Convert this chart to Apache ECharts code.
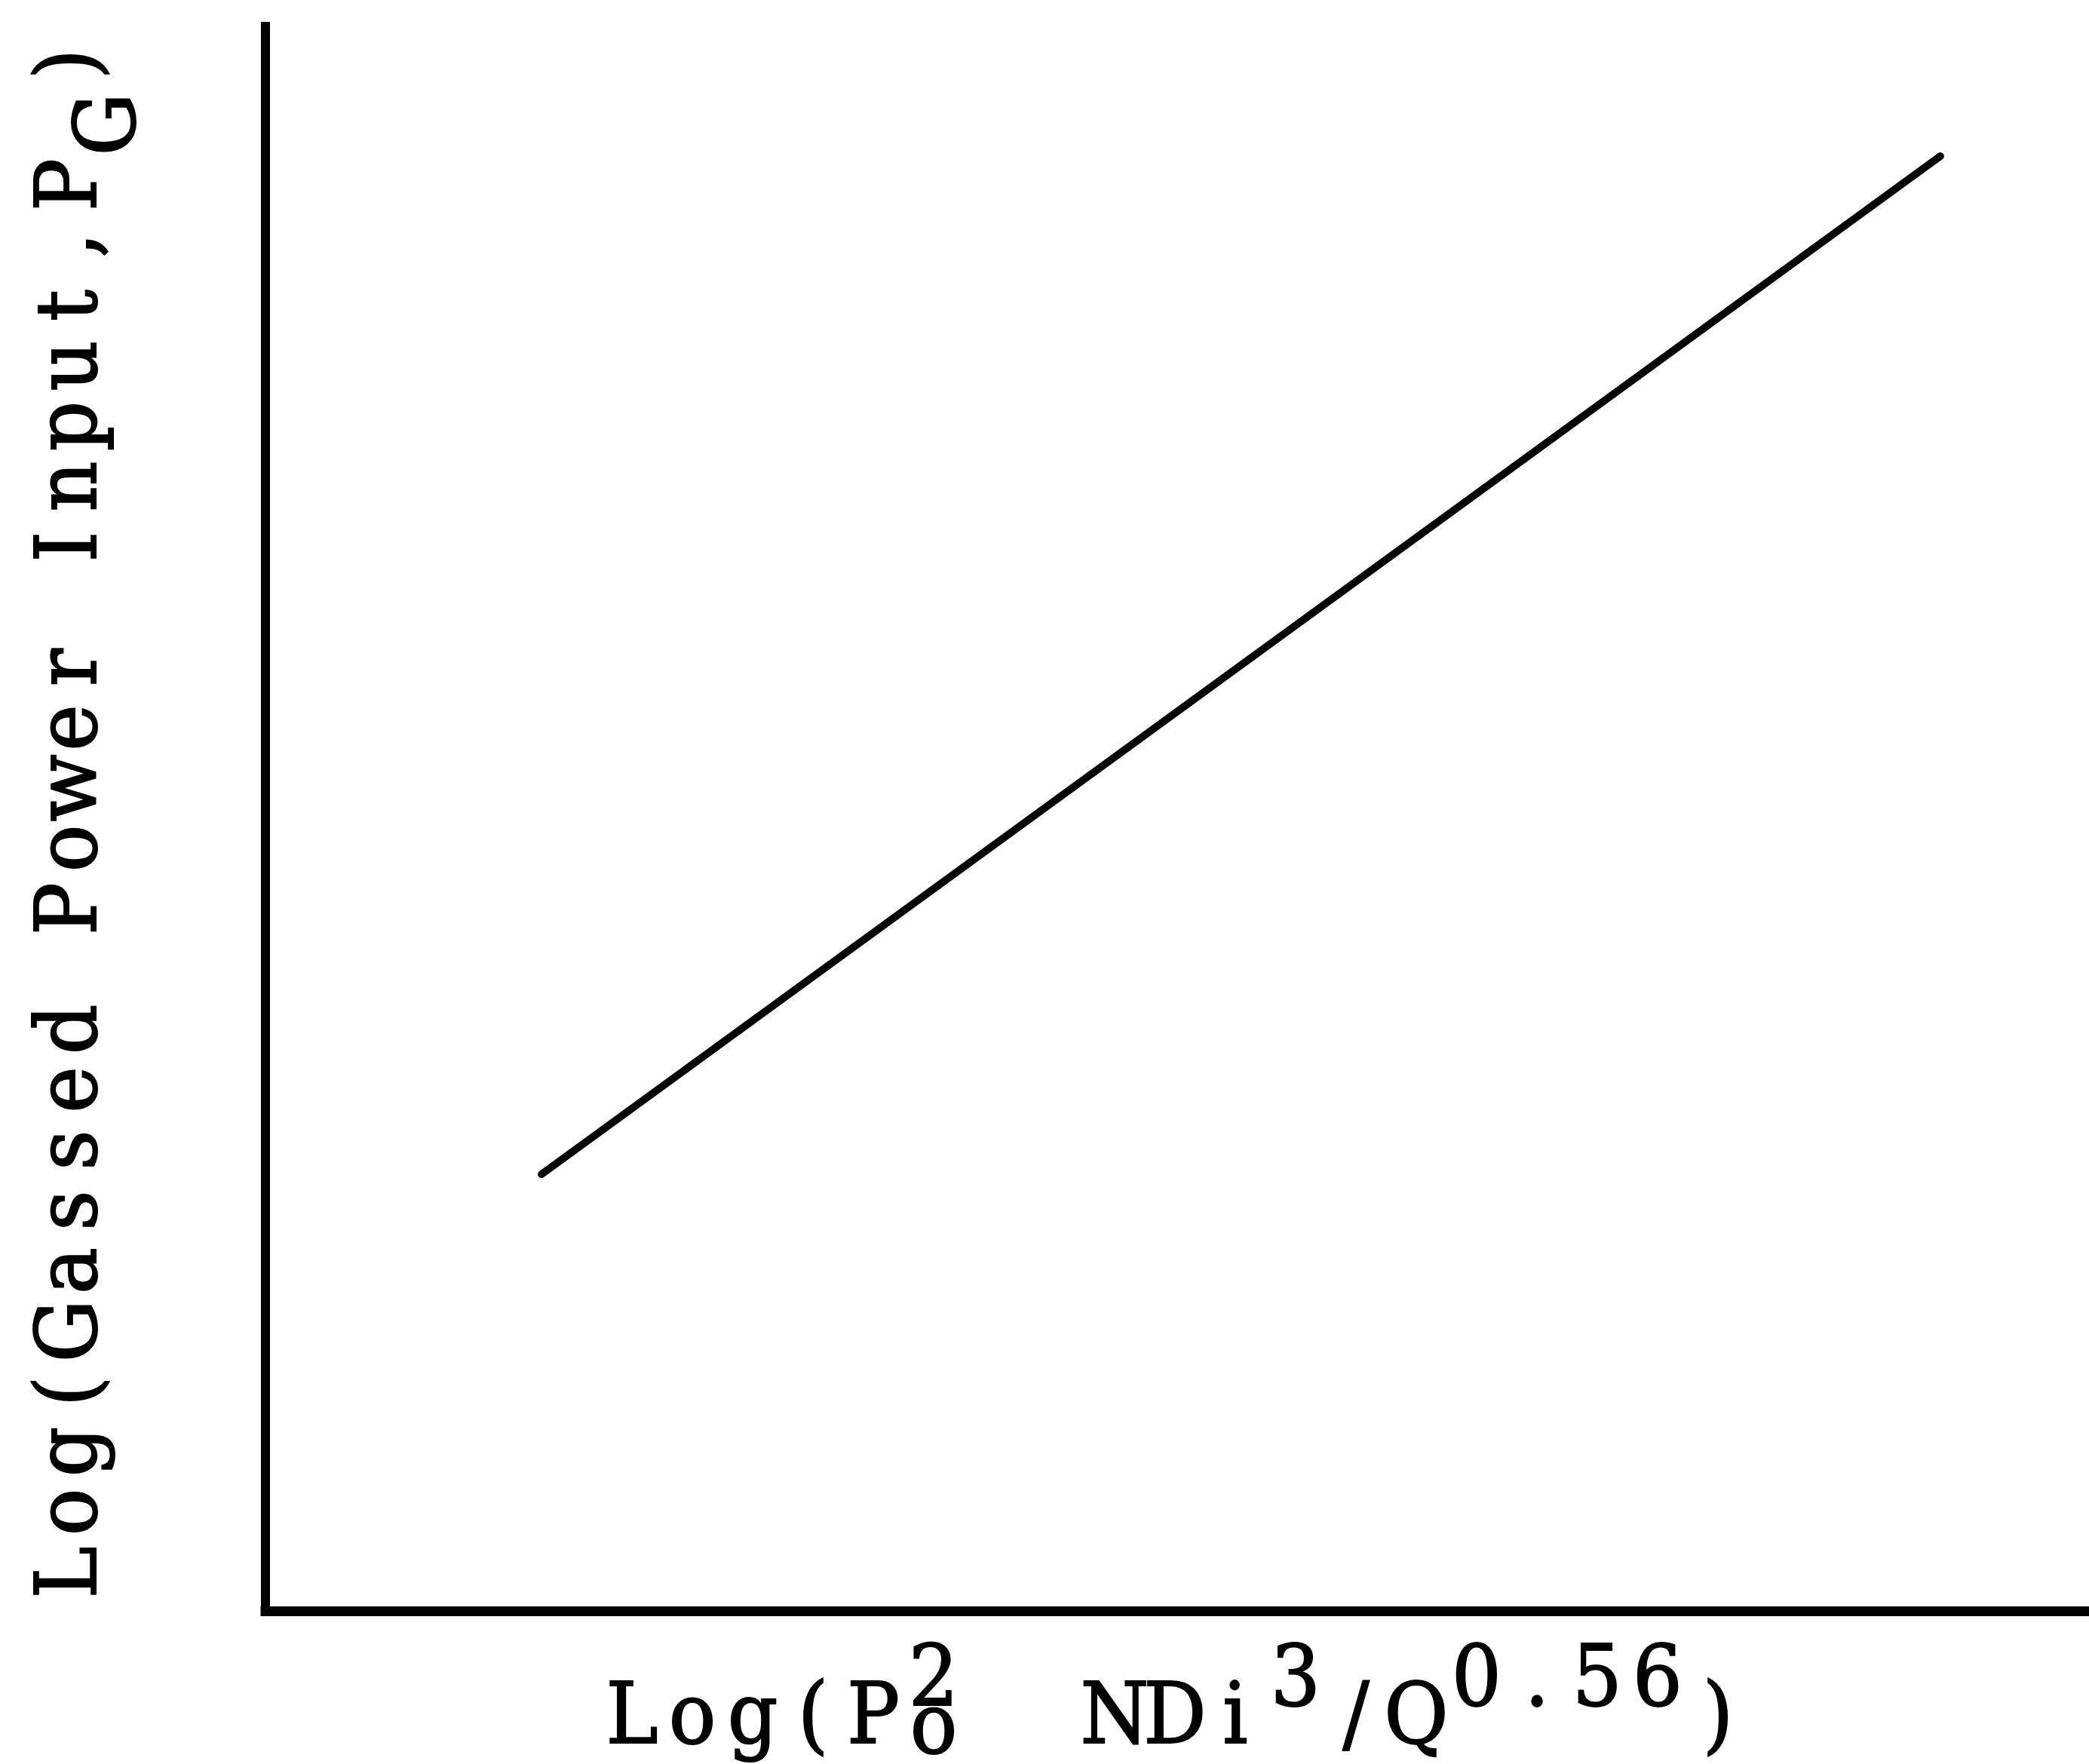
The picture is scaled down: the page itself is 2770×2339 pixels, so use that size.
<!DOCTYPE html>
<html>
<head>
<meta charset="utf-8">
<script src="https://cdn.jsdelivr.net/npm/echarts@6/dist/echarts.min.js"></script>
<style>
html,body{margin:0;padding:0;background:#fff;}
#chart{width:2770px;height:2339px;}
</style>
</head>
<body>
<div id="chart"></div>
<script>
// Data (arbitrary log units, axes have no ticks)
const lineX = [15.14, 91.85];
const lineY = [27.56, 91.81];

// Axis label pieces (typewriter style: index = character cell, shift = vertical offset)
const xLabelParts = [
  {t: 'Log(P', idx: 0, shift: 0},
  {t: 'o', idx: 5, shift: 13},
  {t: '2', idx: 5, shift: -50},
  {t: 'NDi', idx: 8, shift: 0},
  {t: '3', idx: 11, shift: -50},
  {t: '/Q', idx: 12, shift: 0},
  {t: '0.56', idx: 14, shift: -50},
  {t: ')', idx: 18, shift: 0}
];
const yLabelParts = [
  {t: 'Log(Gassed Power Input,P', idx: 0, shift: 0},
  {t: 'G', idx: 24, shift: 51},
  {t: ')', idx: 25, shift: 0}
];

const FONT = 112;
const PITCH = 80;
const FAMILY = '"DejaVu Serif", "Liberation Serif", serif';

function textPieces(parts) {
  const out = [];
  parts.forEach(p => {
    Array.from(p.t).forEach((ch, k) => {
      if (ch === ' ') return;
      out.push({
        type: 'text',
        x: (p.idx + k + 0.5) * PITCH,
        y: p.shift,
        scaleX: 0.93,
        style: {
          text: ch,
          fill: '#000',
          stroke: '#000',
          lineWidth: 2,
          font: FONT + 'px ' + FAMILY,
          align: 'center',
          verticalAlign: 'middle'
        }
      });
    });
  });
  return out;
}

const chart = echarts.init(document.getElementById('chart'), null, {renderer: 'canvas'});
chart.setOption({
  backgroundColor: '#fff',
  animation: false,
  grid: {left: 352, top: 35, right: 0, bottom: 203, containLabel: false},
  xAxis: {
    type: 'value', min: 0, max: 100,
    axisLine: {show: true, onZero: false, lineStyle: {color: '#000', width: 13, cap: 'square'}},
    axisTick: {show: false}, axisLabel: {show: false}, splitLine: {show: false}
  },
  yAxis: {
    type: 'value', min: 0, max: 100,
    axisLine: {show: true, onZero: false, lineStyle: {color: '#000', width: 12, cap: 'square'}},
    axisTick: {show: false}, axisLabel: {show: false}, splitLine: {show: false}
  },
  series: [{
    type: 'line',
    data: lineX.map((x, i) => [x, lineY[i]]),
    showSymbol: false,
    lineStyle: {color: '#000', width: 10, cap: 'round'}
  }],
  graphic: [
    {
      type: 'group',
      x: 798, y: 2282,
      children: textPieces(xLabelParts)
    },
    {
      type: 'group',
      x: 98, y: 2125,
      rotation: Math.PI / 2,
      children: textPieces(yLabelParts)
    }
  ]
});
</script>
</body>
</html>
